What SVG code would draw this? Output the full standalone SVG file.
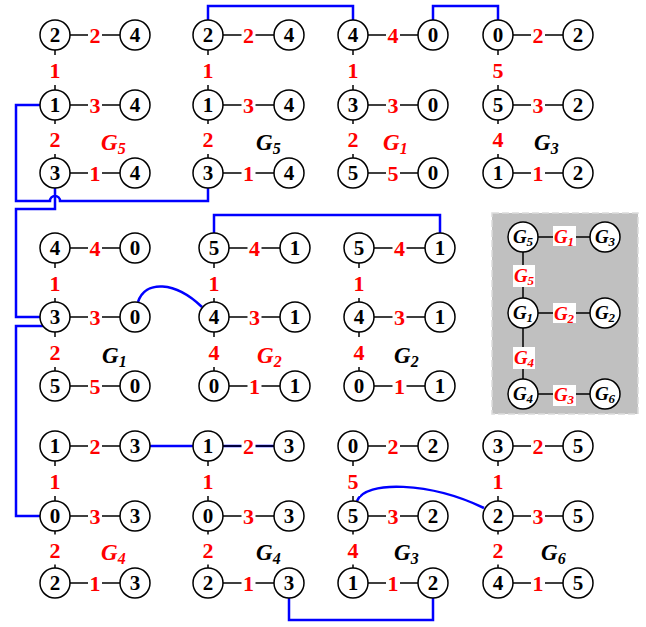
<svg xmlns="http://www.w3.org/2000/svg" width="646" height="627" viewBox="0 0 646 627">
<style>
.nd circle{fill:#fff;stroke:#000;stroke-width:1.5}
.nd text{font-family:"Liberation Serif",serif;font-weight:bold;font-size:21px;text-anchor:middle;fill:#000}
.e{stroke:#000;stroke-width:1.5;fill:none}
.lb rect{fill:#fff}
.lb text{font-family:"Liberation Serif",serif;font-weight:bold;font-size:22px;text-anchor:middle;fill:#f00}
.bl{fill:none;stroke:#00f;stroke-width:2.5}
.gl{font-family:"Liberation Serif",serif;font-weight:bold;font-style:italic;font-size:23px;fill:#000}
.gl tspan{font-size:16px}
.gl.r{fill:#f00}
.bn circle{fill:#fff;stroke:#000;stroke-width:1.5}
.bn text{font-family:"Liberation Serif",serif;font-weight:bold;font-style:italic;font-size:19px;text-anchor:middle;fill:#000}
.bn tspan,.bl2 tspan{font-size:13px}
.bl2 rect{fill:#fff}
.bl2 text{font-family:"Liberation Serif",serif;font-weight:bold;font-style:italic;font-size:19px;text-anchor:middle;fill:#f00}
</style>

<!-- gray box -->
<rect x="492" y="213" width="146" height="201" fill="#c0c0c0" stroke="#dcdcdc" stroke-width="1.5" stroke-dasharray="7 3"/>

<g id="connectors">
  <g id="blue">
    <path class="bl" d="M208,20V6H353V20"/>
    <path class="bl" d="M433,20V6H498V20"/>
    <path class="bl" d="M40,105H16V201H50A5,5 0 0 1 60,201H208V188"/>
    <path class="bl" d="M55,188V209H16V317H40"/>
    <path class="bl" d="M43,326H16V516H40"/>
    <path class="bl" d="M138,302C145,280 175,281 202,307"/>
    <path class="bl" d="M214,233V215H440V233"/>
    <path class="bl" d="M150,446H274"/>
    <path class="bl" d="M289,598V620H433V598"/>
    <path class="bl" d="M357,501C365,480 430,482 484,508"/>
  </g>
  <g id="edges">
    <path class="e" d="M55,35V173M55,35H135M55,105H135M55,173H135"/>
    <path class="e" d="M208,35V173M208,35H289M208,105H289M208,173H289"/>
    <path class="e" d="M353,35V173M353,35H433M353,105H433M353,173H433"/>
    <path class="e" d="M498,35V173M498,35H578M498,105H578M498,173H578"/>
    <path class="e" d="M55,248V386M55,248H135M55,317H135M55,386H135"/>
    <path class="e" d="M214,248V386M214,248H295M214,317H295M214,386H295"/>
    <path class="e" d="M359,248V386M359,248H440M359,317H440M359,386H440"/>
    <path class="e" d="M55,446V583M55,446H135M55,516H135M55,583H135"/>
    <path class="e" d="M208,446V583M208,446H289M208,516H289M208,583H289"/>
    <path class="e" d="M353,446V583M353,446H433M353,516H433M353,583H433"/>
    <path class="e" d="M498,446V583M498,446H578M498,516H578M498,583H578"/>
    <path class="e" d="M523,237V394M523,237H605M523,313H605M523,394H605"/>
  </g>
  <g id="edge-labels" class="lb">
    <!-- T1 -->
    <rect x="88" y="25" width="14" height="20"/><text x="95" y="43">2</text>
    <rect x="88" y="95" width="14" height="20"/><text x="95" y="113">3</text>
    <rect x="88" y="163" width="14" height="20"/><text x="95" y="181">1</text>
    <rect x="48" y="55" width="14" height="30"/><text x="55" y="78">1</text>
    <rect x="48" y="124" width="14" height="30"/><text x="55" y="147">2</text>
    <!-- T2 -->
    <rect x="241.5" y="25" width="14" height="20"/><text x="248.5" y="43">2</text>
    <rect x="241.5" y="95" width="14" height="20"/><text x="248.5" y="113">3</text>
    <rect x="241.5" y="163" width="14" height="20"/><text x="248.5" y="181">1</text>
    <rect x="201" y="55" width="14" height="30"/><text x="208" y="78">1</text>
    <rect x="201" y="124" width="14" height="30"/><text x="208" y="147">2</text>
    <!-- T3 -->
    <rect x="386" y="25" width="14" height="20"/><text x="393" y="43">4</text>
    <rect x="386" y="95" width="14" height="20"/><text x="393" y="113">3</text>
    <rect x="386" y="163" width="14" height="20"/><text x="393" y="181">5</text>
    <rect x="346" y="55" width="14" height="30"/><text x="353" y="78">1</text>
    <rect x="346" y="124" width="14" height="30"/><text x="353" y="147">2</text>
    <!-- T4 -->
    <rect x="531" y="25" width="14" height="20"/><text x="538" y="43">2</text>
    <rect x="531" y="95" width="14" height="20"/><text x="538" y="113">3</text>
    <rect x="531" y="163" width="14" height="20"/><text x="538" y="181">1</text>
    <rect x="491" y="55" width="14" height="30"/><text x="498" y="78">5</text>
    <rect x="491" y="124" width="14" height="30"/><text x="498" y="147">4</text>
    <!-- T5 -->
    <rect x="88" y="238" width="14" height="20"/><text x="95" y="256">4</text>
    <rect x="88" y="307" width="14" height="20"/><text x="95" y="325">3</text>
    <rect x="88" y="376" width="14" height="20"/><text x="95" y="394">5</text>
    <rect x="48" y="268" width="14" height="30"/><text x="55" y="291">1</text>
    <rect x="48" y="337" width="14" height="30"/><text x="55" y="360">2</text>
    <!-- T6 -->
    <rect x="247.5" y="238" width="14" height="20"/><text x="254.5" y="256">4</text>
    <rect x="247.5" y="307" width="14" height="20"/><text x="254.5" y="325">3</text>
    <rect x="247.5" y="376" width="14" height="20"/><text x="254.5" y="394">1</text>
    <rect x="207" y="268" width="14" height="30"/><text x="214" y="291">1</text>
    <rect x="207" y="337" width="14" height="30"/><text x="214" y="360">4</text>
    <!-- T7 -->
    <rect x="392.5" y="238" width="14" height="20"/><text x="399.5" y="256">4</text>
    <rect x="392.5" y="307" width="14" height="20"/><text x="399.5" y="325">3</text>
    <rect x="392.5" y="376" width="14" height="20"/><text x="399.5" y="394">1</text>
    <rect x="352" y="268" width="14" height="30"/><text x="359" y="291">1</text>
    <rect x="352" y="337" width="14" height="30"/><text x="359" y="360">4</text>
    <!-- T8 -->
    <rect x="88" y="436" width="14" height="20"/><text x="95" y="454">2</text>
    <rect x="88" y="506" width="14" height="20"/><text x="95" y="524">3</text>
    <rect x="88" y="573" width="14" height="20"/><text x="95" y="591">1</text>
    <rect x="48" y="466" width="14" height="30"/><text x="55" y="489">1</text>
    <rect x="48" y="534.5" width="14" height="30"/><text x="55" y="557.5">2</text>
    <!-- T9 -->
    <rect x="241.5" y="436" width="14" height="20"/><text x="248.5" y="454">2</text>
    <rect x="241.5" y="506" width="14" height="20"/><text x="248.5" y="524">3</text>
    <rect x="241.5" y="573" width="14" height="20"/><text x="248.5" y="591">1</text>
    <rect x="201" y="466" width="14" height="30"/><text x="208" y="489">1</text>
    <rect x="201" y="534.5" width="14" height="30"/><text x="208" y="557.5">2</text>
    <!-- T10 -->
    <rect x="386" y="436" width="14" height="20"/><text x="393" y="454">2</text>
    <rect x="386" y="506" width="14" height="20"/><text x="393" y="524">3</text>
    <rect x="386" y="573" width="14" height="20"/><text x="393" y="591">1</text>
    <rect x="346" y="466" width="14" height="30"/><text x="353" y="489">5</text>
    <rect x="346" y="534.5" width="14" height="30"/><text x="353" y="557.5">4</text>
    <!-- T11 -->
    <rect x="531" y="436" width="14" height="20"/><text x="538" y="454">2</text>
    <rect x="531" y="506" width="14" height="20"/><text x="538" y="524">3</text>
    <rect x="531" y="573" width="14" height="20"/><text x="538" y="591">1</text>
    <rect x="491" y="466" width="14" height="30"/><text x="498" y="489">1</text>
    <rect x="491" y="534.5" width="14" height="30"/><text x="498" y="557.5">2</text>
  </g>
  <g id="box-edge-labels" class="bl2">
    <rect x="553" y="226" width="23" height="20"/><text x="564" y="243">G<tspan dy="3">1</tspan></text>
    <rect x="513" y="265" width="22" height="22"/><text x="524" y="282">G<tspan dy="3">5</tspan></text>
    <rect x="553" y="303" width="23" height="20"/><text x="564" y="320">G<tspan dy="3">2</tspan></text>
    <rect x="513" y="347" width="22" height="22"/><text x="524" y="364">G<tspan dy="3">4</tspan></text>
    <rect x="553" y="385" width="23" height="21"/><text x="564" y="401">G<tspan dy="3">3</tspan></text>
  </g>
</g>

<!-- Tree labels -->
<g id="tree-labels">
  <text class="gl r" x="101" y="150">G<tspan dy="4">5</tspan></text>
  <text class="gl" x="256" y="150">G<tspan dy="4">5</tspan></text>
  <text class="gl r" x="383" y="150">G<tspan dy="4">1</tspan></text>
  <text class="gl" x="534" y="150">G<tspan dy="4">3</tspan></text>
  <text class="gl" x="102" y="363">G<tspan dy="4">1</tspan></text>
  <text class="gl r" x="257" y="363">G<tspan dy="4">2</tspan></text>
  <text class="gl" x="394" y="363">G<tspan dy="4">2</tspan></text>
  <text class="gl r" x="101" y="560">G<tspan dy="4">4</tspan></text>
  <text class="gl" x="256" y="560">G<tspan dy="4">4</tspan></text>
  <text class="gl" x="394" y="560">G<tspan dy="4">3</tspan></text>
  <text class="gl" x="541" y="560">G<tspan dy="4">6</tspan></text>
</g>

<!-- T1 -->
<g id="t1-a" class="nd"><circle cx="55" cy="35" r="15"/><text x="55" y="42">2</text></g>
<g id="t1-b" class="nd"><circle cx="135" cy="35" r="15"/><text x="135" y="42">4</text></g>
<g id="t1-c" class="nd"><circle cx="55" cy="105" r="15"/><text x="55" y="112">1</text></g>
<g id="t1-d" class="nd"><circle cx="135" cy="105" r="15"/><text x="135" y="112">4</text></g>
<g id="t1-e" class="nd"><circle cx="55" cy="173" r="15"/><text x="55" y="180">3</text></g>
<g id="t1-f" class="nd"><circle cx="135" cy="173" r="15"/><text x="135" y="180">4</text></g>
<!-- T2 -->
<g id="t2-a" class="nd"><circle cx="208" cy="35" r="15"/><text x="208" y="42">2</text></g>
<g id="t2-b" class="nd"><circle cx="289" cy="35" r="15"/><text x="289" y="42">4</text></g>
<g id="t2-c" class="nd"><circle cx="208" cy="105" r="15"/><text x="208" y="112">1</text></g>
<g id="t2-d" class="nd"><circle cx="289" cy="105" r="15"/><text x="289" y="112">4</text></g>
<g id="t2-e" class="nd"><circle cx="208" cy="173" r="15"/><text x="208" y="180">3</text></g>
<g id="t2-f" class="nd"><circle cx="289" cy="173" r="15"/><text x="289" y="180">4</text></g>
<!-- T3 -->
<g id="t3-a" class="nd"><circle cx="353" cy="35" r="15"/><text x="353" y="42">4</text></g>
<g id="t3-b" class="nd"><circle cx="433" cy="35" r="15"/><text x="433" y="42">0</text></g>
<g id="t3-c" class="nd"><circle cx="353" cy="105" r="15"/><text x="353" y="112">3</text></g>
<g id="t3-d" class="nd"><circle cx="433" cy="105" r="15"/><text x="433" y="112">0</text></g>
<g id="t3-e" class="nd"><circle cx="353" cy="173" r="15"/><text x="353" y="180">5</text></g>
<g id="t3-f" class="nd"><circle cx="433" cy="173" r="15"/><text x="433" y="180">0</text></g>
<!-- T4 -->
<g id="t4-a" class="nd"><circle cx="498" cy="35" r="15"/><text x="498" y="42">0</text></g>
<g id="t4-b" class="nd"><circle cx="578" cy="35" r="15"/><text x="578" y="42">2</text></g>
<g id="t4-c" class="nd"><circle cx="498" cy="105" r="15"/><text x="498" y="112">5</text></g>
<g id="t4-d" class="nd"><circle cx="578" cy="105" r="15"/><text x="578" y="112">2</text></g>
<g id="t4-e" class="nd"><circle cx="498" cy="173" r="15"/><text x="498" y="180">1</text></g>
<g id="t4-f" class="nd"><circle cx="578" cy="173" r="15"/><text x="578" y="180">2</text></g>
<!-- T5 -->
<g id="t5-a" class="nd"><circle cx="55" cy="248" r="15"/><text x="55" y="255">4</text></g>
<g id="t5-b" class="nd"><circle cx="135" cy="248" r="15"/><text x="135" y="255">0</text></g>
<g id="t5-c" class="nd"><circle cx="55" cy="317" r="15"/><text x="55" y="324">3</text></g>
<g id="t5-d" class="nd"><circle cx="135" cy="317" r="15"/><text x="135" y="324">0</text></g>
<g id="t5-e" class="nd"><circle cx="55" cy="386" r="15"/><text x="55" y="393">5</text></g>
<g id="t5-f" class="nd"><circle cx="135" cy="386" r="15"/><text x="135" y="393">0</text></g>
<!-- T6 -->
<g id="t6-a" class="nd"><circle cx="214" cy="248" r="15"/><text x="214" y="255">5</text></g>
<g id="t6-b" class="nd"><circle cx="295" cy="248" r="15"/><text x="295" y="255">1</text></g>
<g id="t6-c" class="nd"><circle cx="214" cy="317" r="15"/><text x="214" y="324">4</text></g>
<g id="t6-d" class="nd"><circle cx="295" cy="317" r="15"/><text x="295" y="324">1</text></g>
<g id="t6-e" class="nd"><circle cx="214" cy="386" r="15"/><text x="214" y="393">0</text></g>
<g id="t6-f" class="nd"><circle cx="295" cy="386" r="15"/><text x="295" y="393">1</text></g>
<!-- T7 -->
<g id="t7-a" class="nd"><circle cx="359" cy="248" r="15"/><text x="359" y="255">5</text></g>
<g id="t7-b" class="nd"><circle cx="440" cy="248" r="15"/><text x="440" y="255">1</text></g>
<g id="t7-c" class="nd"><circle cx="359" cy="317" r="15"/><text x="359" y="324">4</text></g>
<g id="t7-d" class="nd"><circle cx="440" cy="317" r="15"/><text x="440" y="324">1</text></g>
<g id="t7-e" class="nd"><circle cx="359" cy="386" r="15"/><text x="359" y="393">0</text></g>
<g id="t7-f" class="nd"><circle cx="440" cy="386" r="15"/><text x="440" y="393">1</text></g>
<!-- T8 -->
<g id="t8-a" class="nd"><circle cx="55" cy="446" r="15"/><text x="55" y="453">1</text></g>
<g id="t8-b" class="nd"><circle cx="135" cy="446" r="15"/><text x="135" y="453">3</text></g>
<g id="t8-c" class="nd"><circle cx="55" cy="516" r="15"/><text x="55" y="523">0</text></g>
<g id="t8-d" class="nd"><circle cx="135" cy="516" r="15"/><text x="135" y="523">3</text></g>
<g id="t8-e" class="nd"><circle cx="55" cy="583" r="15"/><text x="55" y="590">2</text></g>
<g id="t8-f" class="nd"><circle cx="135" cy="583" r="15"/><text x="135" y="590">3</text></g>
<!-- T9 -->
<g id="t9-a" class="nd"><circle cx="208" cy="446" r="15"/><text x="208" y="453">1</text></g>
<g id="t9-b" class="nd"><circle cx="289" cy="446" r="15"/><text x="289" y="453">3</text></g>
<g id="t9-c" class="nd"><circle cx="208" cy="516" r="15"/><text x="208" y="523">0</text></g>
<g id="t9-d" class="nd"><circle cx="289" cy="516" r="15"/><text x="289" y="523">3</text></g>
<g id="t9-e" class="nd"><circle cx="208" cy="583" r="15"/><text x="208" y="590">2</text></g>
<g id="t9-f" class="nd"><circle cx="289" cy="583" r="15"/><text x="289" y="590">3</text></g>
<!-- T10 -->
<g id="t10-a" class="nd"><circle cx="353" cy="446" r="15"/><text x="353" y="453">0</text></g>
<g id="t10-b" class="nd"><circle cx="433" cy="446" r="15"/><text x="433" y="453">2</text></g>
<g id="t10-c" class="nd"><circle cx="353" cy="516" r="15"/><text x="353" y="523">5</text></g>
<g id="t10-d" class="nd"><circle cx="433" cy="516" r="15"/><text x="433" y="523">2</text></g>
<g id="t10-e" class="nd"><circle cx="353" cy="583" r="15"/><text x="353" y="590">1</text></g>
<g id="t10-f" class="nd"><circle cx="433" cy="583" r="15"/><text x="433" y="590">2</text></g>
<!-- T11 -->
<g id="t11-a" class="nd"><circle cx="498" cy="446" r="15"/><text x="498" y="453">3</text></g>
<g id="t11-b" class="nd"><circle cx="578" cy="446" r="15"/><text x="578" y="453">5</text></g>
<g id="t11-c" class="nd"><circle cx="498" cy="516" r="15"/><text x="498" y="523">2</text></g>
<g id="t11-d" class="nd"><circle cx="578" cy="516" r="15"/><text x="578" y="523">5</text></g>
<g id="t11-e" class="nd"><circle cx="498" cy="583" r="15"/><text x="498" y="590">4</text></g>
<g id="t11-f" class="nd"><circle cx="578" cy="583" r="15"/><text x="578" y="590">5</text></g>
<!-- Box nodes -->
<g id="b-g5" class="bn"><circle cx="523" cy="237" r="15"/><text x="523" y="243">G<tspan dy="3">5</tspan></text></g>
<g id="b-g3" class="bn"><circle cx="605" cy="237" r="15"/><text x="605" y="243">G<tspan dy="3">3</tspan></text></g>
<g id="b-g1" class="bn"><circle cx="523" cy="313" r="15"/><text x="523" y="319">G<tspan dy="3">1</tspan></text></g>
<g id="b-g2" class="bn"><circle cx="605" cy="313" r="15"/><text x="605" y="319">G<tspan dy="3">2</tspan></text></g>
<g id="b-g4" class="bn"><circle cx="523" cy="394" r="15"/><text x="523" y="400">G<tspan dy="3">4</tspan></text></g>
<g id="b-g6" class="bn"><circle cx="605" cy="394" r="15"/><text x="605" y="400">G<tspan dy="3">6</tspan></text></g>
</svg>
